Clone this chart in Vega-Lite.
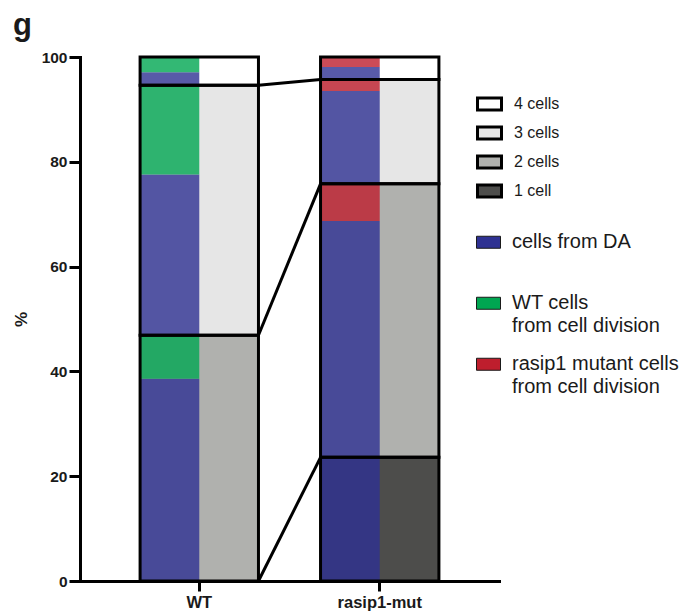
{
  "$schema": "https://vega.github.io/schema/vega-lite/v6.json",
  "width": 419,
  "height": 524,
  "autosize": {"type": "none"},
  "padding": {"left": 80, "top": 57, "right": 198, "bottom": 33},
  "background": "white",
  "title": {"text": "g", "anchor": "start", "frame": "group", "fontSize": 31, "fontWeight": "bold", "font": "Liberation Sans", "color": "#1a1a1a", "dx": -67, "offset": 8},
  "config": {
    "view": {"stroke": null},
    "axis": {"domainColor": "black", "domainWidth": 3, "domainCap": "square", "tickColor": "black", "tickWidth": 3, "grid": false, "labelFont": "Liberation Sans", "labelFontWeight": "bold", "labelColor": "#1a1a1a", "titleFont": "Liberation Sans", "titleFontWeight": "bold", "titleColor": "#1a1a1a"},
    "style": {"guide-label": {"lineHeight": 23}}
  },
  "datasets": {
    "cells": [
      {"sample": "WT", "count": "2 cells", "lo": 0, "hi": 46.9},
      {"sample": "WT", "count": "3 cells", "lo": 46.9, "hi": 94.6},
      {"sample": "WT", "count": "4 cells", "lo": 94.6, "hi": 100},
      {"sample": "rasip1-mut", "count": "1 cell", "lo": 0, "hi": 23.6},
      {"sample": "rasip1-mut", "count": "2 cells", "lo": 23.6, "hi": 75.8},
      {"sample": "rasip1-mut", "count": "3 cells", "lo": 75.8, "hi": 95.7},
      {"sample": "rasip1-mut", "count": "4 cells", "lo": 95.7, "hi": 100}
    ],
    "origin": [
      {"sample": "WT", "source": "cells from DA", "lo": 0, "hi": 38.6},
      {"sample": "WT", "source": "WT cells from cell division", "lo": 38.6, "hi": 46.9},
      {"sample": "WT", "source": "cells from DA", "lo": 46.9, "hi": 77.6},
      {"sample": "WT", "source": "WT cells from cell division", "lo": 77.6, "hi": 94.6},
      {"sample": "WT", "source": "cells from DA", "lo": 94.6, "hi": 97.1},
      {"sample": "WT", "source": "WT cells from cell division", "lo": 97.1, "hi": 100},
      {"sample": "rasip1-mut", "source": "cells from DA", "lo": 0, "hi": 23.6},
      {"sample": "rasip1-mut", "source": "cells from DA", "lo": 23.6, "hi": 68.7},
      {"sample": "rasip1-mut", "source": "rasip1 mutant cells from cell division", "lo": 68.7, "hi": 75.8},
      {"sample": "rasip1-mut", "source": "cells from DA", "lo": 75.8, "hi": 93.5},
      {"sample": "rasip1-mut", "source": "rasip1 mutant cells from cell division", "lo": 93.5, "hi": 95.7},
      {"sample": "rasip1-mut", "source": "cells from DA", "lo": 95.7, "hi": 98.1},
      {"sample": "rasip1-mut", "source": "rasip1 mutant cells from cell division", "lo": 98.1, "hi": 100}
    ],
    "links": [
      {"from": "WT", "to": "rasip1-mut", "a": 0, "b": 23.6},
      {"from": "WT", "to": "rasip1-mut", "a": 46.9, "b": 75.8},
      {"from": "WT", "to": "rasip1-mut", "a": 94.6, "b": 95.7}
    ]
  },
  "layer": [
    {
      "data": {"name": "cells"},
      "mark": {"type": "bar"},
      "encoding": {
        "x": {"field": "sample", "type": "nominal", "title": null,
          "scale": {"type": "band", "domain": ["WT", "rasip1-mut"], "paddingInner": 0.344, "paddingOuter": 0.333},
          "axis": {"labelAngle": 0, "tickSize": 10, "labelFontSize": 16.5, "labelPadding": 3}},
        "y": {"field": "lo", "type": "quantitative", "title": "%",
          "scale": {"domain": [0, 100], "nice": false},
          "axis": {"values": [0, 20, 40, 60, 80, 100], "tickSize": 11, "labelFontSize": 15.5, "labelPadding": 2, "titleFontSize": 17, "titlePadding": 11}},
        "y2": {"field": "hi"},
        "fill": {"field": "count", "type": "nominal",
          "scale": {"domain": ["4 cells", "3 cells", "2 cells", "1 cell"], "range": ["#ffffff", "#e6e6e6", "#b0b1ae", "#4d4d4b"]},
          "legend": {"orient": "none", "legendX": 396, "legendY": 32.5, "title": null, "padding": 0,
            "symbolType": "M-1,-0.5H1V0.5H-1Z", "symbolSize": 576, "symbolStrokeColor": "black", "symbolStrokeWidth": 3, "symbolOpacity": 1,
            "labelFont": "Liberation Sans", "labelFontSize": 16, "labelColor": "#1a1a1a", "labelOffset": 11, "clipHeight": 29, "rowPadding": 0}}
      }
    },
    {
      "data": {"name": "origin"},
      "mark": {"type": "bar", "opacity": 0.8},
      "encoding": {
        "x": {"field": "sample", "type": "nominal", "title": null},
        "xOffset": {"datum": "left", "type": "nominal", "scale": {"domain": ["left", "right"], "paddingInner": 0, "paddingOuter": 0}},
        "y": {"field": "lo", "type": "quantitative", "title": "%"},
        "y2": {"field": "hi"},
        "fill": {"field": "source", "type": "nominal",
          "scale": {"domain": ["cells from DA", "WT cells from cell division", "rasip1 mutant cells from cell division"], "range": ["#2e3192", "#00a651", "#be1e2d"]},
          "legend": {"orient": "none", "legendX": 396, "legendY": 158, "title": null, "padding": 0,
            "symbolType": "M-1,-0.5H1V0.5H-1Z", "symbolSize": 576, "symbolStrokeColor": "#1a1a1a", "symbolStrokeWidth": 1, "symbolOpacity": 1,
            "labelFont": "Liberation Sans", "labelFontSize": 20, "labelColor": "#1a1a1a", "labelOffset": 11, "clipHeight": 54.5, "rowPadding": 0, "labelLimit": 300,
            "labelExpr": "datum.label == 'cells from DA' ? ['cells from DA', ''] : datum.label == 'WT cells from cell division' ? ['WT cells', 'from cell division'] : ['rasip1 mutant cells', 'from cell division']"}}
      }
    },
    {
      "data": {"name": "cells"},
      "mark": {"type": "bar", "fill": "transparent", "stroke": "black", "strokeWidth": 3},
      "encoding": {
        "x": {"field": "sample", "type": "nominal", "title": null},
        "y": {"field": "lo", "type": "quantitative", "title": "%"},
        "y2": {"field": "hi"}
      }
    },
    {
      "data": {"name": "links"},
      "mark": {"type": "rule", "stroke": "black", "strokeWidth": 3},
      "encoding": {
        "x": {"field": "from", "type": "nominal", "bandPosition": 1, "title": null},
        "x2": {"field": "to", "bandPosition": 0},
        "y": {"field": "a", "type": "quantitative", "title": "%"},
        "y2": {"field": "b"}
      }
    }
  ],
  "resolve": {"scale": {"fill": "independent"}, "legend": {"fill": "independent"}}
}
